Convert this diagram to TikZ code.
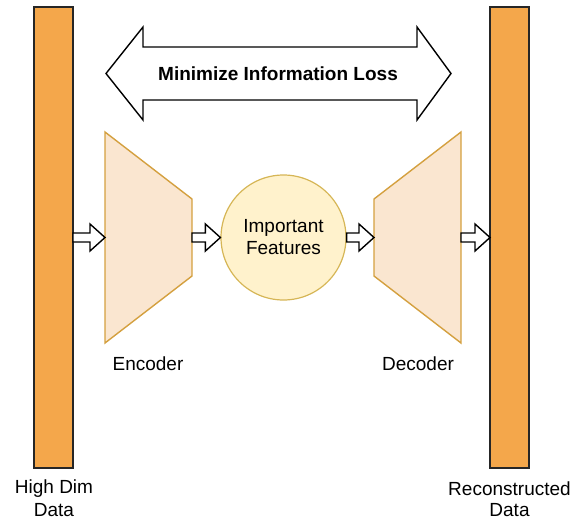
\documentclass[tikz,border=0pt]{standalone}
\usepackage{fontspec}
\setmainfont{Liberation Sans}
\usetikzlibrary{calc}
\definecolor{barfill}{HTML}{F4A74B}
\definecolor{trapfill}{HTML}{FAE6D0}
\definecolor{trapline}{HTML}{D4A03F}
\definecolor{circfill}{HTML}{FFF2CC}
\definecolor{circline}{HTML}{D6B656}
\tikzset{
  bar/.style={draw=black!85, fill=barfill, line width=1.4pt},
  trap/.style={draw=trapline, fill=trapfill, line width=1.4pt, line join=miter},
  feat/.style={circle, draw=circline, fill=circfill, line width=1.2pt, minimum size=125pt, inner sep=0pt, align=center, font=\fontsize{19}{22}\selectfont},
  lbl/.style={font=\fontsize{19}{21}\selectfont, align=center, inner sep=0pt},
  barrow/.style={draw=black, fill=white, line width=1.4pt, line join=miter},
}
\newcommand\blockarrow[2]{%
  \path let \p1=(#1), \p2=(#2) in
    [barrow] (\x1,\y1+4.5pt) -- (\x2-15pt,\y1+4.5pt) -- (\x2-15pt,\y1+13.5pt) -- (\x2,\y1)
    -- (\x2-15pt,\y1-13.5pt) -- (\x2-15pt,\y1-4.5pt) -- (\x1,\y1-4.5pt) -- cycle;}
\begin{document}
\begin{tikzpicture}[x=1pt,y=-1pt]
\useasboundingbox (0,0) rectangle (571,523);
% bars
\draw[bar] (34,7) rectangle (73,468);
\coordinate (inbar) at (73,237.5);
\draw[bar] (490,7) rectangle (529,468);
\coordinate (outbar) at (490,237.5);
% encoder / decoder
\draw[trap] (105,132) -- (192,199) -- (192,276) -- (105,343) -- cycle;
\coordinate (encL) at (105,237.5);
\coordinate (encR) at (192,237.5);
\draw[trap] (461,132) -- (374,199) -- (374,276) -- (461,343) -- cycle;
\coordinate (decL) at (374,237.5);
\coordinate (decR) at (461,237.5);
% features
\node[feat] (feat) at (283.5,237.5) {Important\\Features};
% arrows
\blockarrow{inbar}{encL}
\blockarrow{encR}{feat.west}
\blockarrow{feat.east}{decL}
\blockarrow{decR}{outbar}
% double arrow
\draw[barrow] (106,73.5) -- (143,27) -- (143,47) -- (417,47) -- (417,27) -- (451,73.5)
  -- (417,120) -- (417,100) -- (143,100) -- (143,120) -- cycle;
\node[lbl, font=\fontsize{19}{21}\selectfont\bfseries] (loss) at (278,74) {Minimize Information Loss};
% labels
\node[lbl] (enc) at (148,364) {Encoder};
\node[lbl] (dec) at (418,364) {Decoder};
\node[lbl] (hd1) at (54,489) {High Dim};
\node[lbl] (hd2) at (54,510) {Data};
\node[lbl] (rc1) at (509.5,489) {Reconstructed};
\node[lbl] (rc2) at (509.5,510) {Data};
\end{tikzpicture}
\end{document}
